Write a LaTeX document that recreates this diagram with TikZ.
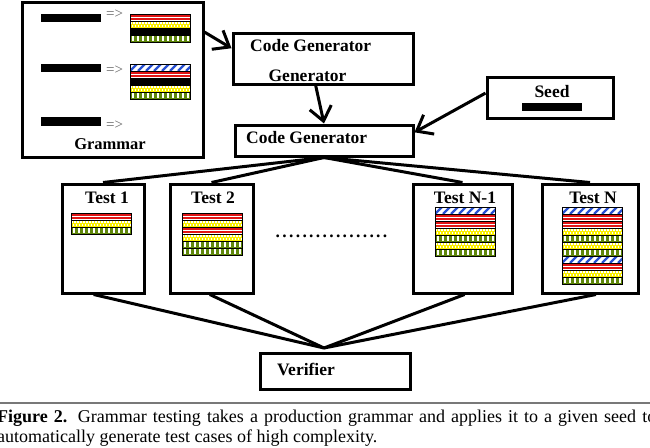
\documentclass[tikz,border=0pt]{standalone}
\usepackage{fontspec}
\setmainfont{Liberation Serif}
\usetikzlibrary{arrows.meta,calc}
\definecolor{lred}{RGB}{225,20,20}
\definecolor{lyel}{RGB}{250,240,0}
\definecolor{lgrn}{RGB}{95,135,10}
\definecolor{lblu}{RGB}{40,80,210}
\definecolor{sepgray}{RGB}{120,120,120}
\newcommand\dd{\makebox[6.7pt]{.}}
\tikzset{
  box/.style={draw, line width=3pt, inner sep=0pt},
  lbl/.style={font=\fontsize{17.5}{20}\selectfont\bfseries, inner sep=0pt},
  impl/.style={font=\fontsize{15}{15}\selectfont, text=black!60, inner sep=0pt},
  conn/.style={line width=3pt},
  arr/.style={conn, -{Straight Barb[length=14pt,width=22pt]}},
  bar/.style={fill=black},
  lay/.style={line width=0.6pt},
  pics/redL/.style={code={
    \fill[white] (0,0) rectangle (60,7);
    \draw[lred, line width=1.7pt] (0,1.7) -- (60,1.7) (0,5.2) -- (60,5.2);
    \draw[lay] (0,0) rectangle (60,7);
  }},
  pics/yelL/.style={code={
    \fill[lyel] (0,0) rectangle (60,7);
    \foreach \i in {0,...,19}{
      \fill[white] (\i*3+0.4,1.2) rectangle ++(1.3,1.3);
      \fill[white] (\i*3+1.9,4.2) rectangle ++(1.3,1.3);
    }
    \draw[lay] (0,0) rectangle (60,7);
  }},
  pics/grnL/.style={code={
    \fill[lgrn] (0,0) rectangle (60,7);
    \foreach \i in {0,...,11}{
      \fill[white] (\i*5+1.6,1.2) rectangle ++(2,4.6);
    }
    \draw[lay] (0,0) rectangle (60,7);
  }},
  pics/bluL/.style={code={
    \fill[white] (0,0) rectangle (60,7);
    \begin{scope}
      \clip (0,0) rectangle (60,7);
      \foreach \i in {-1,...,8}{
        \draw[lblu, line width=2.2pt] (\i*8,7) -- ++(7,-7);
      }
    \end{scope}
    \draw[lay] (0,0) rectangle (60,7);
  }},
  pics/blkL/.style={code={
    \fill[black] (0,0) rectangle (60,7);
    \draw[lay] (0,0) rectangle (60,7);
  }},
}
\begin{document}
\begin{tikzpicture}[x=1pt,y=-1pt]
\useasboundingbox (0,0) rectangle (650,447);

% boxes
\node[box, minimum width=181pt, minimum height=155pt] (grammar) at (112.5,79.5) {};
\node[box, minimum width=180pt, minimum height=51pt] (cgg) at (323,58.5) {};
\node[box, minimum width=178pt, minimum height=31pt] (cg) at (324,140.5) {};
\node[box, minimum width=126pt, minimum height=41pt] (seed) at (550,97.5) {};
\node[box, minimum width=82pt, minimum height=109pt] (t1) at (103,238.5) {};
\node[box, minimum width=83pt, minimum height=109pt] (t2) at (211.5,238.5) {};
\node[box, minimum width=99pt, minimum height=109pt] (tn1) at (462.5,238.5) {};
\node[box, minimum width=96pt, minimum height=109pt] (tn) at (590,238.5) {};
\node[box, minimum width=150pt, minimum height=36pt] (ver) at (335,371) {};

% labels
\node[lbl, anchor=west] (cggl1) at (250,46) {Code Generator};
\node[lbl] (cggl2) at (307.5,76) {Generator};
\node[lbl, anchor=west] (cgl) at (246,138) {Code Generator};
\node[lbl] (seedl) at (552,92) {Seed};
\node[lbl, font=\fontsize{16.5}{20}\selectfont\bfseries] (gl) at (110,144) {Grammar};
\node[lbl] (t1l) at (107,198) {Test 1};
\node[lbl] (t2l) at (213,198) {Test 2};
\node[lbl] (tn1l) at (465,198) {Test N-1};
\node[lbl] (tnl) at (593,198) {Test N};
\node[lbl, anchor=west] (verl) at (277,369) {Verifier};
\node[lbl, anchor=base] (dots) at (331.5,237) {\dd\dd\dd\dd\dd\dd\dd\dd\dd\dd\dd\dd\dd\dd\dd\dd\dd};

% grammar rules
\fill[bar] (41,14) rectangle (101,22);
\fill[bar] (41,64) rectangle (101,72);
\fill[bar] (41,117) rectangle (101,126);
\fill[bar] (522,103) rectangle (582,111);
\node[impl] (im1) at (114.5,14) {=>};
\node[impl] (im2) at (114.5,70) {=>};
\node[impl] (im3) at (114.5,125) {=>};

% grammar stacks
\pic at (130,14) {redL};
\pic at (130,21) {yelL};
\pic at (130,28) {blkL};
\pic at (130,35) {grnL};

\pic at (130,64) {bluL};
\pic at (130,71) {redL};
\pic at (130,78) {blkL};
\pic at (130,85) {yelL};
\pic at (130,92) {grnL};

% test 1
\pic at (71,213) {redL};
\pic at (71,220) {yelL};
\pic at (71,227) {grnL};
% test 2
\pic at (182,213) {redL};
\pic at (182,220) {yelL};
\pic at (182,227) {redL};
\pic at (182,234) {yelL};
\pic at (182,241) {grnL};
\pic at (182,248) {grnL};
% test N-1
\pic at (435,207) {bluL};
\pic at (435,214) {redL};
\pic at (435,221) {redL};
\pic at (435,228) {yelL};
\pic at (435,235) {grnL};
\pic at (435,242) {yelL};
\pic at (435,249) {grnL};
% test N
\pic at (562,207) {bluL};
\pic at (562,214) {redL};
\pic at (562,221) {redL};
\pic at (562,228) {yelL};
\pic at (562,235) {grnL};
\pic at (562,242) {yelL};
\pic at (562,249) {grnL};
\pic at (562,256) {bluL};
\pic at (562,263) {redL};
\pic at (562,270) {yelL};
\pic at (562,277) {grnL};

% arrows
\draw[arr] ($(grammar.north east)!0.2!(grammar.south east)$) -- ($(cgg.north west)!0.31!(cgg.south west)$);
\draw[arr] ($(cgg.south west)!0.46!(cgg.south east)$) -- (cg.north);
\draw[arr] ($(seed.north west)!0.4!(seed.south west)$) -- ($(cg.north east)!0.26!(cg.south east)$);

% fan out
\draw[conn] (cg.south) -- (t1.north);
\draw[conn] (cg.south) -- (t2.north);
\draw[conn] (cg.south) -- (tn1.north);
\draw[conn] (cg.south) -- (tn.north);

% fan in
\coordinate (vap) at (324,348);
\draw[conn] ($(t1.south west)!0.39!(t1.south east)$) -- (vap);
\draw[conn] ($(t2.south west)!0.48!(t2.south east)$) -- (vap);
\draw[conn] ($(tn1.south west)!0.52!(tn1.south east)$) -- (vap);
\draw[conn] ($(tn.south west)!0.56!(tn.south east)$) -- (vap);

% caption
\coordinate (sepl) at (0,403);
\coordinate (sepr) at (650,403);
\draw[sepgray, line width=2pt] (sepl) -- (sepr);
\node[anchor=base west, inner sep=0pt, font=\fontsize{18}{20}\selectfont] (cap1) at (-3,422)
  {\makebox[659pt][s]{\textbf{Figure 2.} Grammar testing takes a production grammar and applies it to a given seed to}};
\node[anchor=base west, inner sep=0pt, font=\fontsize{18}{20}\selectfont] (cap2) at (-3,442)
  {automatically generate test cases of high complexity.};
\end{tikzpicture}
\end{document}
